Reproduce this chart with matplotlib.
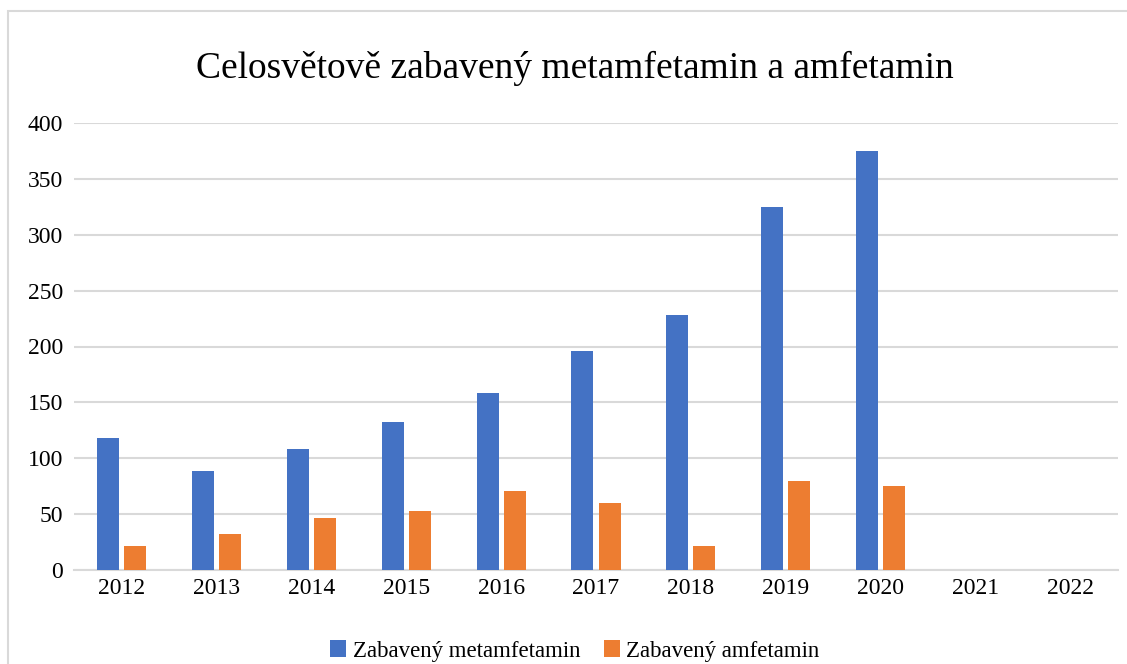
import matplotlib
matplotlib.use("Agg")
import matplotlib.pyplot as plt
from matplotlib.patches import Rectangle
import numpy as np

years = ["2012", "2013", "2014", "2015", "2016", "2017", "2018", "2019", "2020", "2021", "2022"]
metamfetamin = [118, 88.5, 108, 132.5, 158.5, 196, 228, 325, 375, np.nan, np.nan]
amfetamin = [21.5, 32, 46.5, 53, 70.5, 60, 21.5, 79.5, 75, np.nan, np.nan]
yticks = [0, 50, 100, 150, 200, 250, 300, 350, 400]

W, H = 1127, 664
fig = plt.figure(figsize=(W / 100, H / 100), dpi=100)
plt.rcParams['font.family'] = ['Liberation Serif', 'DejaVu Serif']

# outer chart border
fig.patches.append(Rectangle((8 / W, -0.05), 1.0, 1 - 11 / H + 0.05, transform=fig.transFigure,
                             fill=False, edgecolor='#d9d9d9', linewidth=1.5))

ax = fig.add_axes([74 / W, 1 - 570 / H, (1118 - 74) / W, (570 - 123) / H])
x = np.arange(len(years))
bw = 0.232
gap = 0.053
off = (bw + gap) / 2
ax.bar(x - off, metamfetamin, bw, color='#4472c4', label='Zabavený metamfetamin', zorder=3)
ax.bar(x + off, amfetamin, bw, color='#ed7d31', label='Zabavený amfetamin', zorder=3)

ax.set_xlim(-0.5, len(years) - 0.5)
ax.set_ylim(0, 400)
ax.set_yticks(yticks)
ax.set_xticks(x)
ax.set_xticklabels(years)
ax.tick_params(axis='both', length=0, labelsize=17, colors='black')
ax.tick_params(axis='y', pad=8)
ax.tick_params(axis='x', pad=6)
ax.grid(axis='y', color='#d9d9d9', linewidth=1.5, zorder=0)
for s in ['top', 'right', 'left']:
    ax.spines[s].set_visible(False)
ax.spines['bottom'].set_color('#d9d9d9')
ax.spines['bottom'].set_linewidth(1.5)

fig.text(575 / W, 1 - 68 / H, 'Celosvětově zabavený metamfetamin a amfetamin',
         ha='center', va='center', fontsize=27)

fig.legend(loc='center', bbox_to_anchor=(575 / W, 1 - 651 / H), ncol=2, frameon=False,
           fontsize=16.5, handlelength=0.7, handleheight=0.7, handletextpad=0.3,
           columnspacing=1.0)

fig.savefig('out.png', dpi=100)
